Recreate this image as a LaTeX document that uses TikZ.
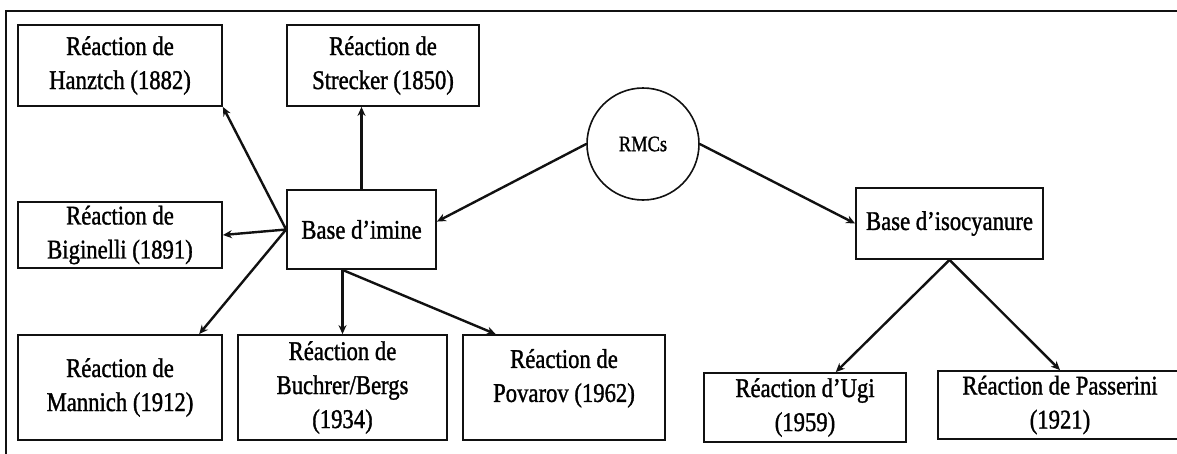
\documentclass[tikz,border=0pt]{standalone}
\usepackage{fontspec}
\setmainfont{Liberation Serif}[FakeStretch=0.84,FakeBold=1.2]
\usepackage{tikz}
\usetikzlibrary{arrows.meta,calc}
\definecolor{Ink}{HTML}{111111}
\tikzset{
  rxn/.style={draw=Ink,line width=1.8pt,align=center,inner sep=0pt,
    font=\fontsize{27}{34}\selectfont},
  link/.style={draw=Ink,line width=2.4pt,-{Stealth[length=9pt,width=8pt]}}
}
\newcommand{\RxnBox}[5]{%
  \node[rxn,minimum width=#3,minimum height=#4] (#1) at (#2) {#5};%
}
\begin{document}
\begin{tikzpicture}[x=1pt,y=-1pt]
\clip (0,0) rectangle (1177,453);
\draw[Ink,line width=1.8pt] (6,460) -- (6,11) -- (1185,11);
\RxnBox{hanz}{120,65.5}{204pt}{81pt}{Réaction de\\Hanztch (1882)}
\RxnBox{streck}{383,65.5}{192pt}{81pt}{Réaction de\\Strecker (1850)}
\RxnBox{imine}{361.5,229.5}{149pt}{79pt}{Base d’imine}
\RxnBox{bigin}{120,235}{204pt}{66pt}{Réaction de\\Biginelli (1891)}
\RxnBox{mann}{120,387.5}{204pt}{105pt}{Réaction de\\Mannich (1912)}
\RxnBox{buch}{342.5,387.5}{209pt}{105pt}{Réaction de\\Buchrer/Bergs\\(1934)}
\RxnBox{pov}{564,387.5}{202pt}{105pt}{Réaction de\\Povarov (1962)\\[-10pt]}
\RxnBox{iso}{949.5,223.5}{187pt}{71pt}{Base d’isocyanure}
\RxnBox{ugi}{805,407.5}{202pt}{69pt}{\fontsize{27}{31}\selectfont Réaction d’Ugi\\(1959)}
\RxnBox{pass}{1060,405}{244pt}{68pt}{\fontsize{27}{30}\selectfont Réaction de Passerini\\(1921)}
\node[circle,draw=Ink,line width=1.6pt,minimum size=112pt,inner sep=0pt,
  font=\fontsize{22}{26}\selectfont] (rmc) at (643,144) {RMCs};
\draw[link] (imine.west) -- (hanz.south east);
\draw[link] (imine.north) -- (imine.north |- streck.south);
\draw[link] (imine.west) -- (bigin.east);
\draw[link] (imine.west) -- (mann.34);
\draw[link] (buch.north |- imine.south) -- (buch.north);
\draw[link] (buch.north |- imine.south) -- (pov.142);
\draw[link] (rmc.west) -- (imine.6);
\draw[link] (rmc.east) -- (iso.west);
\draw[link] (iso.south) -- (ugi.49);
\draw[link] (iso.south) -- (pass.north);
\end{tikzpicture}
\end{document}
